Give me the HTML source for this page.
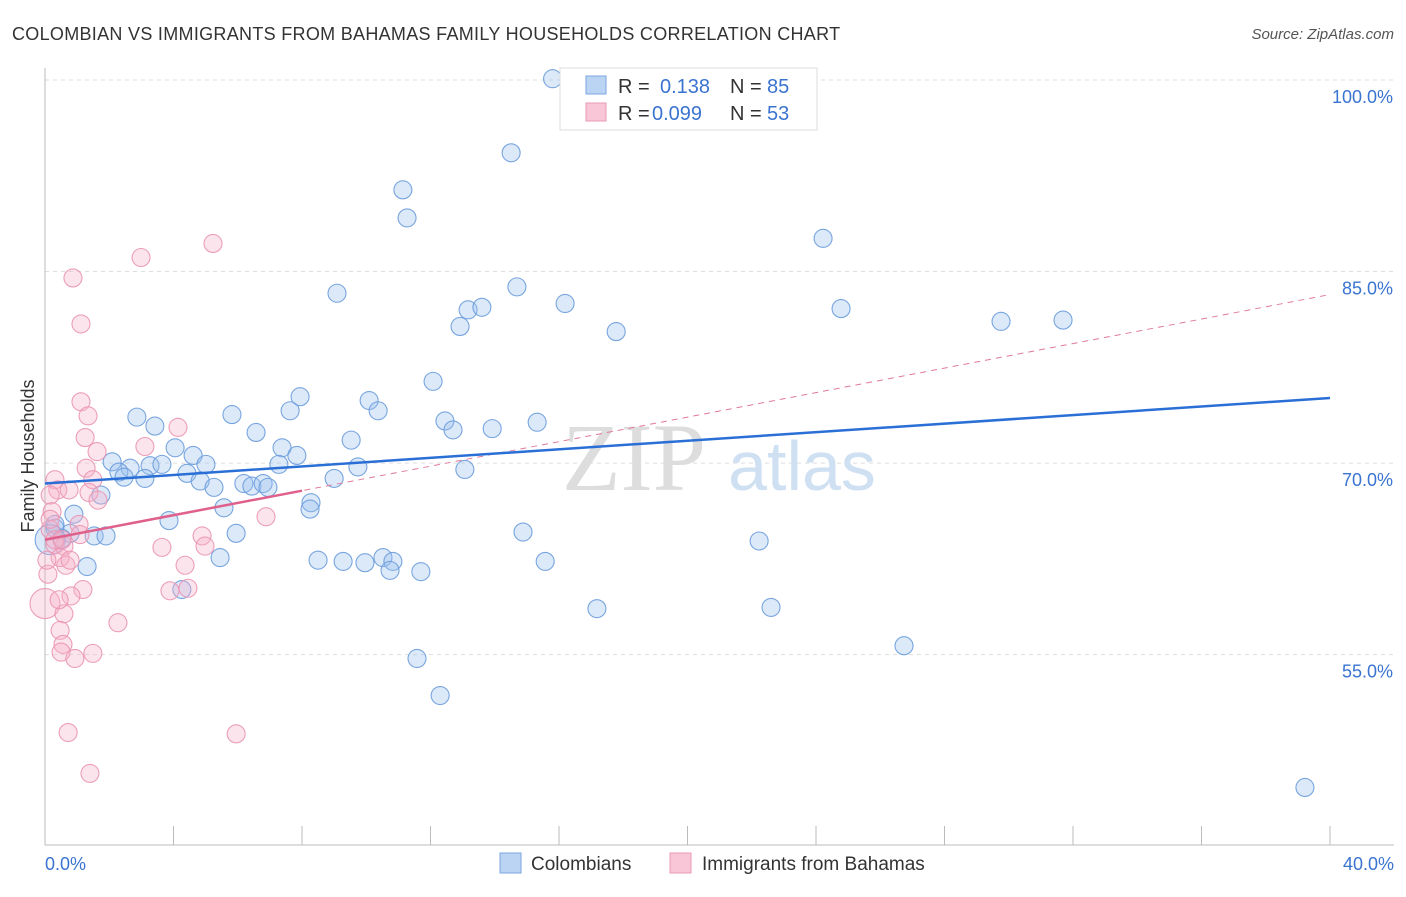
<!DOCTYPE html>
<html><head><meta charset="utf-8"><style>
body{margin:0;background:#fff;font-family:"Liberation Sans",sans-serif}
</style></head><body>
<svg id="chart" width="1406" height="892" xmlns="http://www.w3.org/2000/svg">
<text x="12" y="40" font-size="18" fill="#333" letter-spacing="0.3">COLOMBIAN VS IMMIGRANTS FROM BAHAMAS FAMILY HOUSEHOLDS CORRELATION CHART</text>
<text x="1394" y="39" font-size="15" fill="#555" font-style="italic" text-anchor="end">Source: ZipAtlas.com</text>
<g id="grid"></g>
<text x="634" y="490" font-size="96" fill="#ddd" font-family="Liberation Serif" text-anchor="middle">ZIP</text>
<text x="802" y="490" font-size="70" fill="#cfe0f3" text-anchor="middle">atlas</text>
<g id="marks"></g>
<text transform="translate(34,456) rotate(-90)" font-size="18" fill="#333" text-anchor="middle">Family Households</text>
<g>
<rect x="560" y="68" width="257" height="62" fill="#fff" stroke="#ddd"/>
<rect x="586" y="76" width="20" height="18" fill="#bcd4f4" stroke="#7aa6de"/>
<text x="618" y="93" font-size="20" fill="#333">R = </text><text x="660" y="93" font-size="20" fill="#3a74d0">0.138</text>
<text x="730" y="93" font-size="20" fill="#333">N = </text><text x="767" y="93" font-size="20" fill="#3a74d0">85</text>
<rect x="586" y="103" width="20" height="18" fill="#f8c6d6" stroke="#e99ab4"/>
<text x="618" y="120" font-size="20" fill="#333">R = </text><text x="652" y="120" font-size="20" fill="#3a74d0">0.099</text>
<text x="730" y="120" font-size="20" fill="#333">N = </text><text x="767" y="120" font-size="20" fill="#3a74d0">53</text>
</g>
<g>
<rect x="500" y="853" width="21" height="20" fill="#bcd4f4" stroke="#7aa6de"/>
<text x="531" y="870" font-size="19" fill="#333">Colombians</text>
<rect x="670" y="853" width="21" height="20" fill="#f8c6d6" stroke="#e99ab4"/>
<text x="702" y="870" font-size="19" fill="#333">Immigrants from Bahamas</text>
</g>
</svg>
<script>
const yTicks=[55,70,85,100];
const yTickLabels=["55.0%","70.0%","85.0%","100.0%"];
const xTickVals=[0,4,8,12,16,20,24,28,32,36,40];
const xEndLabels=["0.0%","40.0%"];
const blueX=[15.8,14.51,11.14,11.27,24.22,9.09,14.69,16.19,13.17,13.6,12.92,17.78,24.78,29.76,31.69,12.08,7.94,10.09,10.37,7.63,5.82,2.86,12.45,12.7,13.92,15.32,3.42,6.57,9.53,4.05,7.38,4.61,7.84,2.09,2.65,3.27,3.64,5.01,7.28,9.74,13.07,2.3,2.46,3.11,4.42,4.83,5.26,6.19,6.44,6.79,6.94,9.0,8.28,8.25,5.57,1.74,0.9,0.31,0.78,0.53,1.53,1.9,3.86,5.95,14.88,22.23,5.45,8.5,9.28,9.96,10.52,10.83,10.74,11.7,15.57,1.31,4.26,17.18,22.6,26.74,11.58,12.3,39.22,0.31,0.16];
const blueY=[100.1,94.3,91.4,89.2,87.6,83.3,83.8,82.5,82.0,82.2,80.7,80.3,82.1,81.1,81.2,76.4,75.2,74.9,74.1,74.1,73.8,73.6,73.3,72.6,72.7,73.2,72.9,72.4,71.8,71.2,71.2,70.6,70.6,70.1,69.6,69.8,69.9,69.9,69.9,69.7,69.5,69.3,68.9,68.8,69.2,68.6,68.1,68.4,68.2,68.4,68.1,68.8,66.9,66.4,66.5,67.5,66.0,64.9,64.5,64.1,64.3,64.3,65.5,64.5,64.6,63.9,62.6,62.4,62.3,62.2,62.6,62.3,61.6,61.5,62.3,61.9,60.1,58.6,58.7,55.7,54.7,51.8,44.6,65.2,64.0];
const pinkX=[5.23,2.99,0.87,1.12,1.12,1.34,4.14,1.25,3.11,1.62,1.28,0.31,0.4,0.75,1.49,1.37,1.65,0.16,0.22,1.06,1.09,6.88,4.89,4.98,3.64,0.16,0.31,0.59,0.47,0.65,0.78,4.36,0.09,1.18,3.89,4.45,0.81,0,0.59,2.27,0.47,0.56,0.5,1.49,0.93,0.72,5.95,1.4,0.31,0.16,0.53,0.06,0.44];
const pinkY=[87.2,86.1,84.5,80.9,74.8,73.7,72.8,72.0,71.3,70.9,69.6,68.7,67.9,67.9,68.7,67.7,67.1,67.5,66.2,65.2,64.4,65.8,64.3,63.5,63.4,64.8,63.6,63.5,62.6,62.0,62.4,62.0,61.3,60.1,60.0,60.2,59.6,59.0,58.2,57.5,56.9,55.8,55.2,55.1,54.7,48.9,48.8,45.7,64.0,65.6,64.0,62.4,59.3];
const blueTrend=[68.4,75.1];
const pinkTrend=[64.0,83.2];
const pinkSolidEnd=8;
const NS="http://www.w3.org/2000/svg";
const X=v=>45+v/40*1285, Y=v=>80+(100-v)*12.77;
const grid=document.getElementById('grid'),marks=document.getElementById('marks');
function mk(tag,attrs,parent){const e=document.createElementNS(NS,tag);for(const k in attrs)e.setAttribute(k,attrs[k]);parent.appendChild(e);return e;}
yTicks.forEach((t,i)=>{
 const l=mk('line',{x1:45,x2:1394,y1:Y(t),y2:Y(t),stroke:'#ddd','stroke-dasharray':'4,4'},grid);
 
 
 const tx=mk('text',{x:1393,y:Y(t)+23,'font-size':18,fill:'#3a74d0','text-anchor':'end'},grid);
 tx.textContent=yTickLabels[i];
 
 
});
const ax=mk('line',{x1:45,x2:45,y1:68,y2:845,stroke:'#bbb'},grid);


const bx=mk('line',{x1:45,x2:1394,y1:845,y2:845,stroke:'#bbb'},grid);


xTickVals.forEach(t=>{
 const l=mk('line',{x1:X(t),x2:X(t),y1:826,y2:845,stroke:'#bbb'},grid);
 
 
});
[[0,'start',45],[40,'end',1394]].forEach((d,i)=>{
 const tx=mk('text',{x:d[2],y:870,'font-size':18,fill:'#3a74d0','text-anchor':d[1]},grid);
 tx.textContent=xEndLabels[i];
 
 
});
function dots(xs,ys,fill,stroke,name){
 xs.forEach((x,i)=>{
  const big=(name==='colombian-point'&&i===xs.length-1)||(name==='bahamas-point'&&xs[i]===0);
  const c=mk('circle',{cx:X(x),cy:Y(ys[i]),r:big?15:9,fill:fill,'fill-opacity':0.35,stroke:stroke,'stroke-width':1.1,'stroke-opacity':0.9},marks);
  
  
 });
}
dots(blueX,blueY,'#9cc0ee','#6a9cdc','colombian-point');
dots(pinkX,pinkY,'#f6b3c8','#ea95b2','bahamas-point');
const pd=mk('line',{x1:X(0),y1:Y(pinkTrend[0]),x2:X(40),y2:Y(pinkTrend[1]),stroke:'#e07a9c','stroke-width':1,'stroke-dasharray':'6,5'},marks);


const ps=mk('line',{x1:X(0),y1:Y(pinkTrend[0]),x2:X(pinkSolidEnd),y2:Y(pinkTrend[0]+(pinkTrend[1]-pinkTrend[0])*pinkSolidEnd/40),stroke:'#e0608c','stroke-width':2.5},marks);


const bl=mk('line',{x1:X(0),y1:Y(blueTrend[0]),x2:X(40),y2:Y(blueTrend[1]),stroke:'#2a6fd6','stroke-width':2.5},marks);


</script>
</body></html>
